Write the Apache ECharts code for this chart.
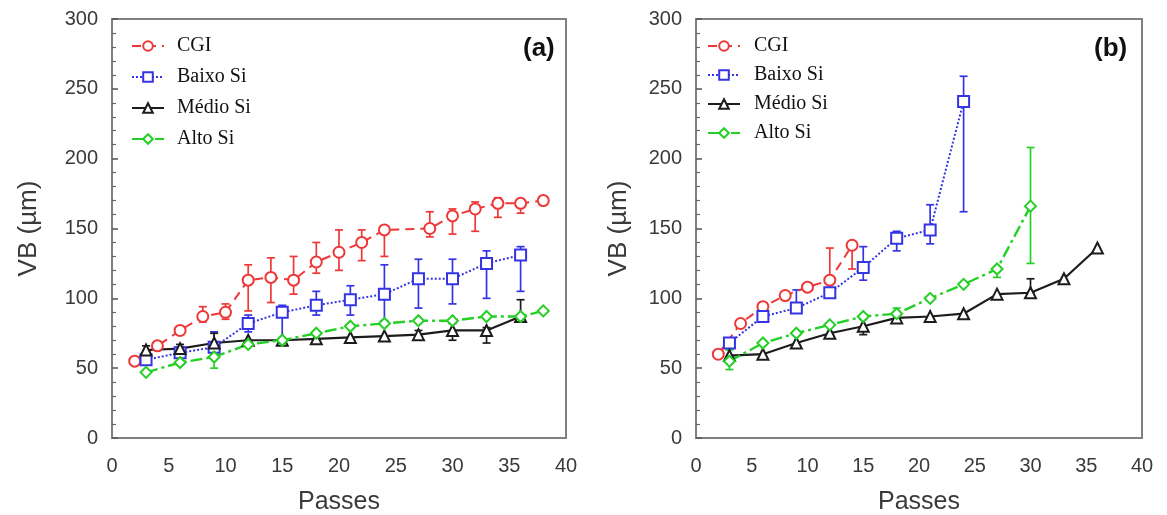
<!DOCTYPE html>
<html>
<head>
<meta charset="utf-8">
<script src="https://cdn.jsdelivr.net/npm/echarts@6/dist/echarts.min.js"></script>
<style>
  html, body { margin: 0; padding: 0; background: #fff; }
  #chart { width: 1167px; height: 515px; }
</style>
</head>
<body>
<div id="chart"></div>
<script>
// ---- Panel (a) ----
const cgiA_x  = [2, 4, 6, 8, 10, 12, 14, 16, 18, 20, 22, 24, 28, 30, 32, 34, 36, 38];
const cgiA_y  = [55, 66, 77, 87, 90, 113, 115, 113, 126, 133, 140, 149, 150, 159, 164, 168, 168, 170];
const cgiA_lo = [null, 63, 74, 83, 85, 91, 97, 103, 118, 120, 127, 130, 144, 146, 148, 158, 161, 167];
const cgiA_hi = [null, 69, 80, 94, 96, 124, 129, 130, 140, 149, 149, 150, 162, 164, 169, 172, 171, 173];

const baixoA_x  = [3, 6, 9, 12, 15, 18, 21, 24, 27, 30, 33, 36];
const baixoA_y  = [56, 61, 65, 82, 90, 95, 99, 103, 114, 114, 125, 131];
const baixoA_lo = [null, 57, 60, 76, 71, 88, 88, 84, 93, 96, 100, 105];
const baixoA_hi = [null, 65, 76, 88, 95, 105, 109, 124, 128, 128, 134, 137];

const medioA_x  = [3, 6, 9, 12, 15, 18, 21, 24, 27, 30, 33, 36];
const medioA_y  = [63, 64, 68, 70, 70, 71, 72, 73, 74, 77, 77, 87];
const medioA_lo = [60, 61, 64, null, null, null, null, null, 71, 70, 68, 84];
const medioA_hi = [66, 67, 75, null, null, null, null, null, 77, 82, 79, 99];

const altoA_x  = [3, 6, 9, 12, 15, 18, 21, 24, 27, 30, 33, 36, 38];
const altoA_y  = [47, 54, 58, 67, 70, 75, 80, 82, 84, 84, 87, 87, 91];
const altoA_lo = [null, null, 50, null, null, null, null, null, null, null, null, null, null];
const altoA_hi = [null, null, 68, null, null, null, null, null, null, null, null, null, null];

// ---- Panel (b) ----
const cgiB_x  = [2, 4, 6, 8, 10, 12, 14];
const cgiB_y  = [60, 82, 94, 102, 108, 113, 138];
const cgiB_lo = [null, null, null, null, null, 113, 121];
const cgiB_hi = [null, null, null, null, null, 136, 138];

const baixoB_x  = [3, 6, 9, 12, 15, 18, 21, 24];
const baixoB_y  = [68, 87, 93, 104, 122, 143, 149, 241];
const baixoB_lo = [null, null, 93, null, 113, 134, 139, 162];
const baixoB_hi = [null, null, 106, null, 137, 148, 167, 259];

const medioB_x  = [3, 6, 9, 12, 15, 18, 21, 24, 27, 30, 33, 36];
const medioB_y  = [59, 60, 68, 75, 80, 86, 87, 89, 103, 104, 114, 136];
const medioB_lo = [null, null, null, null, 74, null, null, null, null, 104, null, null];
const medioB_hi = [null, null, null, null, 85, null, null, null, null, 114, null, null];

const altoB_x  = [3, 6, 9, 12, 15, 18, 21, 24, 27, 30];
const altoB_y  = [55, 68, 75, 81, 87, 89, 100, 110, 121, 166];
const altoB_lo = [49, null, null, null, null, 85, null, null, 115, 125];
const altoB_hi = [63, null, null, null, null, 93, null, null, 121, 208];

// Axis ticks
const xTicks = [0, 5, 10, 15, 20, 25, 30, 35, 40];
const yTicks = [0, 50, 100, 150, 200, 250, 300];

const names = ['CGI', 'Baixo Si', 'Médio Si', 'Alto Si'];
const RED = '#ee3838', BLUE = '#3434e4', BLACK = '#1c1c1c', GREEN = '#26cf26';

const styles = {
  'CGI':      { color: RED,   symbol: 'emptyCircle',   dash: [9, 6],        width: 2 },
  'Baixo Si': { color: BLUE,  symbol: 'emptyRect',     dash: [2, 2],        width: 2 },
  'Médio Si': { color: BLACK, symbol: 'emptyTriangle', dash: 'solid',       width: 2.2 },
  'Alto Si':  { color: GREEN, symbol: 'emptyDiamond',  dash: [12, 4, 3, 4], width: 2.4 }
};

function zip(xs, ys) { return xs.map((x, i) => [x, ys[i]]); }

function lineSeries(name, xs, ys, gi) {
  const s = styles[name];
  return {
    type: 'line', name: name, xAxisIndex: gi, yAxisIndex: gi,
    data: zip(xs, ys),
    symbol: s.symbol, symbolSize: 11, showSymbol: true,
    itemStyle: { color: s.color, borderWidth: 1.8 },
    lineStyle: { color: s.color, width: s.width, type: s.dash },
    z: 3, animation: false
  };
}

function errSeries(name, xs, lo, hi, gi) {
  const color = styles[name].color;
  const data = [];
  xs.forEach((x, i) => { if (lo[i] != null && hi[i] != null) data.push([x, lo[i], hi[i]]); });
  return {
    type: 'custom', name: name + ' (erro)', xAxisIndex: gi, yAxisIndex: gi,
    data: data, encode: { x: 0, y: [1, 2] }, z: 2, animation: false,
    renderItem: function (params, api) {
      const x = api.value(0);
      const p1 = api.coord([x, api.value(1)]);
      const p2 = api.coord([x, api.value(2)]);
      const w = 4;
      const st = { stroke: color, lineWidth: 1.7 };
      return {
        type: 'group',
        children: [
          { type: 'line', shape: { x1: p1[0], y1: p1[1], x2: p2[0], y2: p2[1] }, style: st },
          { type: 'line', shape: { x1: p1[0] - w, y1: p1[1], x2: p1[0] + w, y2: p1[1] }, style: st },
          { type: 'line', shape: { x1: p2[0] - w, y1: p2[1], x2: p2[0] + w, y2: p2[1] }, style: st }
        ]
      };
    }
  };
}

const AXIS_GREY = '#808080';
const LABEL_GREY = '#3a3a3a';
const SANS = 'Liberation Sans, Arial, sans-serif';
const SERIF = 'Liberation Serif, Times New Roman, serif';

function xAxis(gi) {
  return {
    type: 'value', gridIndex: gi, min: xTicks[0], max: xTicks[xTicks.length - 1], interval: xTicks[1] - xTicks[0],
    name: 'Passes', nameLocation: 'middle', nameGap: 52,
    nameTextStyle: { fontFamily: SANS, fontSize: 25, color: LABEL_GREY },
    axisLine: { show: true, lineStyle: { color: AXIS_GREY, width: 2 } },
    axisTick: { show: false },
    axisLabel: { fontFamily: SANS, fontSize: 20, color: LABEL_GREY, margin: 18 },
    splitLine: { show: false }
  };
}

function yAxis(gi, gap) {
  return {
    type: 'value', gridIndex: gi, min: yTicks[0], max: yTicks[yTicks.length - 1], interval: yTicks[1] - yTicks[0],
    name: 'VB (µm)', nameLocation: 'middle', nameGap: gap,
    nameTextStyle: { fontFamily: SANS, fontSize: 26, color: LABEL_GREY },
    axisLine: { show: true, lineStyle: { color: AXIS_GREY, width: 2 } },
    axisTick: { show: true, inside: true, length: 6, lineStyle: { color: '#555', width: 1.5 } },
    minorTick: { show: true, splitNumber: 5, length: 4, lineStyle: { color: '#666', width: 1.2 } },
    axisLabel: { fontFamily: SANS, fontSize: 20, color: LABEL_GREY, margin: 14 },
    splitLine: { show: false }
  };
}

function legend(left, top, gap, pad) {
  return {
    data: names, orient: 'vertical', left: left, top: top, itemGap: gap,
    itemWidth: 32, itemHeight: 12, selectedMode: false,
    textStyle: { fontFamily: SERIF, fontSize: 20, color: '#111', padding: [0, 0, 0, pad] }
  };
}

const option = {
  backgroundColor: '#fff',
  animation: false,
  grid: [
    { left: 112, top: 19, width: 454, height: 419, show: true, borderColor: AXIS_GREY, borderWidth: 2, outerBoundsMode: 'none', containLabel: false },
    { left: 696, top: 19, width: 446, height: 419, show: true, borderColor: AXIS_GREY, borderWidth: 2, outerBoundsMode: 'none', containLabel: false }
  ],
  xAxis: [xAxis(0), xAxis(1)],
  yAxis: [yAxis(0, 70), yAxis(1, 64)],
  legend: [legend(126, 31, 11, 8), legend(702, 31, 9, 9)],
  graphic: [
    { type: 'text', left: 523, top: 36, style: { text: '(a)', fontFamily: SANS, fontWeight: 'bold', fontSize: 26, fill: '#111' } },
    { type: 'text', left: 1094, top: 36, style: { text: '(b)', fontFamily: SANS, fontWeight: 'bold', fontSize: 26, fill: '#111' } }
  ],
  series: [
    errSeries('CGI', cgiA_x, cgiA_lo, cgiA_hi, 0),
    errSeries('Baixo Si', baixoA_x, baixoA_lo, baixoA_hi, 0),
    errSeries('Médio Si', medioA_x, medioA_lo, medioA_hi, 0),
    errSeries('Alto Si', altoA_x, altoA_lo, altoA_hi, 0),
    lineSeries('CGI', cgiA_x, cgiA_y, 0),
    lineSeries('Baixo Si', baixoA_x, baixoA_y, 0),
    lineSeries('Médio Si', medioA_x, medioA_y, 0),
    lineSeries('Alto Si', altoA_x, altoA_y, 0),
    errSeries('CGI', cgiB_x, cgiB_lo, cgiB_hi, 1),
    errSeries('Baixo Si', baixoB_x, baixoB_lo, baixoB_hi, 1),
    errSeries('Médio Si', medioB_x, medioB_lo, medioB_hi, 1),
    errSeries('Alto Si', altoB_x, altoB_lo, altoB_hi, 1),
    lineSeries('CGI', cgiB_x, cgiB_y, 1),
    lineSeries('Baixo Si', baixoB_x, baixoB_y, 1),
    lineSeries('Médio Si', medioB_x, medioB_y, 1),
    lineSeries('Alto Si', altoB_x, altoB_y, 1)
  ]
};

const chart = echarts.init(document.getElementById('chart'), null, { renderer: 'canvas' });
chart.setOption(option);
</script>
</body>
</html>
